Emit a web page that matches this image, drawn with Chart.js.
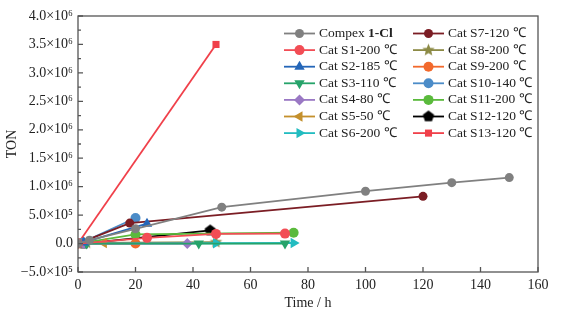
<!DOCTYPE html>
<html>
<head>
<meta charset="utf-8">
<script src="https://cdn.jsdelivr.net/npm/chart.js@4"></script>
<style>
  html, body { margin: 0; padding: 0; background: #fff; }
  #box { width: 568px; height: 320px; }
</style>
</head>
<body>
<div id="box"><canvas id="tonChart" width="568" height="320"></canvas></div>
<script>
// Time (h) and TON values
const compexTime = [0, 4, 20, 50, 100, 130, 150];
const compexTon  = [0, 60000, 260000, 640000, 920000, 1070000, 1160000];
const s1Time = [0, 24, 48, 72];
const s1Ton  = [0, 100000, 170000, 175000];
const s2Time = [2, 24];
const s2Ton  = [20000, 350000];
const s3Time = [3, 42, 72];
const s3Ton  = [0, 0, 0];
const s4Time = [2, 38];
const s4Ton  = [0, 0];
const s5Time = [1, 9];
const s5Ton  = [0, 10000];
const s6Time = [3, 48, 75];
const s6Ton  = [0, 5000, 10000];
const s7Time = [0, 18, 120];
const s7Ton  = [0, 360000, 830000];
const s8Time = [3, 48];
const s8Ton  = [10000, 25000];
const s9Time = [0, 20];
const s9Ton  = [0, 0];
const s10Time = [1, 20];
const s10Ton  = [10000, 450000];
const s11Time = [0, 20, 75];
const s11Ton  = [0, 160000, 190000];
const s12Time = [2, 46];
const s12Ton  = [0, 230000];
const s13Time = [0, 48];
const s13Ton  = [0, 3500000];

const xTicks = [0, 20, 40, 60, 80, 100, 120, 140, 160];

// little canvases for marker shapes chart.js lacks
function shapeCanvas(color, r, sides, inner) {
    const c = document.createElement('canvas');
    const s = Math.ceil(r * 2 + 2);
    c.width = s; c.height = s;
    const g = c.getContext('2d');
    const n = inner ? sides * 2 : sides;
    g.beginPath();
    for (let i = 0; i < n; i++) {
        const a = -Math.PI / 2 + i * Math.PI * 2 / n;
        const rr = inner && i % 2 ? r * inner : r;
        const px = s / 2 + rr * Math.cos(a), py = s / 2 + rr * Math.sin(a);
        if (i === 0) g.moveTo(px, py); else g.lineTo(px, py);
    }
    g.closePath();
    g.fillStyle = color;
    g.fill();
    return c;
}

const starMark = shapeCanvas('#8c8a45', 6.5, 5, 0.45);
const pentaMark = shapeCanvas('#000000', 6, 5, 0);

function pts(xs, ys) {
    return xs.map((x, i) => ({ x: x, y: ys[i] }));
}

function series(label, xs, ys, color, style, rot, size) {
    return {
        label: label,
        data: pts(xs, ys),
        borderColor: color,
        backgroundColor: color,
        borderWidth: 1.8,
        pointStyle: style,
        rotation: rot || 0,
        pointRadius: size || 4.5,
        pointBorderWidth: 0,
        pointBackgroundColor: color,
        fill: false,
        tension: 0
    };
}

const datasets = [
    series('Compex 1-Cl', compexTime, compexTon, '#808080', 'circle'),
    series('Cat S1-200 \u2103', s1Time, s1Ton, '#f24d55', 'circle', 0, 5),
    series('Cat S2-185 \u2103', s2Time, s2Ton, '#2466b8', 'triangle', 0, 6),
    series('Cat S3-110 \u2103', s3Time, s3Ton, '#26a36a', 'triangle', 180, 6),
    series('Cat S4-80 \u2103', s4Time, s4Ton, '#9a78c4', 'rectRot', 0, 5.5),
    series('Cat S5-50 \u2103', s5Time, s5Ton, '#c4902c', 'triangle', -90, 6),
    series('Cat S6-200 \u2103', s6Time, s6Ton, '#22bcc0', 'triangle', 90, 6),
    series('Cat S7-120 \u2103', s7Time, s7Ton, '#7b1d24', 'circle'),
    series('Cat S8-200 \u2103', s8Time, s8Ton, '#8c8a45', starMark),
    series('Cat S9-200 \u2103', s9Time, s9Ton, '#f2692c', 'circle', 0, 5),
    series('Cat S10-140 \u2103', s10Time, s10Ton, '#4b8cc8', 'circle', 0, 5),
    series('Cat S11-200 \u2103', s11Time, s11Ton, '#5aba3c', 'circle', 0, 5),
    series('Cat S12-120 \u2103', s12Time, s12Ton, '#000000', pentaMark),
    series('Cat S13-120 \u2103', s13Time, s13Ton, '#f0404a', 'rect', 0, 5)
];

const supers = { '0': '\u2070', '1': '\u00b9', '2': '\u00b2', '3': '\u00b3', '4': '\u2074', '5': '\u2075', '6': '\u2076', '7': '\u2077', '8': '\u2078', '9': '\u2079' };

function sciLabel(v) {
    if (v === 0) return '0.0';
    const sign = v < 0 ? '\u2212' : '';
    const a = Math.abs(v);
    const e = Math.floor(Math.log10(a) + 1e-9);
    const m = a / Math.pow(10, e);
    return sign + m.toFixed(1) + '\u00d710' + String(e).split('').map(d => supers[d]).join('');
}

const serif = "'Liberation Serif', 'Times New Roman', serif";

// frame, inward ticks and the two column legend
const framePlugin = {
    id: 'frame',
    afterDraw(chart) {
        const ctx = chart.ctx;
        const a = chart.chartArea;
        const xs = chart.scales.x, ys = chart.scales.y;
        ctx.save();
        ctx.strokeStyle = '#555';
        ctx.lineWidth = 1.3;
        ctx.strokeRect(a.left, a.top, a.right - a.left, a.bottom - a.top);
        ctx.beginPath();
        xTicks.forEach(v => {
            const px = xs.getPixelForValue(v);
            ctx.moveTo(px, a.bottom); ctx.lineTo(px, a.bottom - 5);
        });
        for (let v = -500000; v <= 4000000; v += 250000) {
            const py = ys.getPixelForValue(v);
            const len = v % 500000 === 0 ? 5 : 3;
            ctx.moveTo(a.left, py); ctx.lineTo(a.left + len, py);
        }
        ctx.stroke();

        const colX = [a.right - 254, a.right - 125];
        const rowY0 = a.top + 17.5, rowH = 16.6;
        ctx.font = '13.5px ' + serif;
        ctx.textBaseline = 'middle';
        chart.data.datasets.forEach((ds, i) => {
            const col = i < 7 ? 0 : 1;
            const row = i % 7;
            const x0 = colX[col], y0 = rowY0 + row * rowH;
            ctx.strokeStyle = ds.borderColor;
            ctx.fillStyle = ds.borderColor;
            ctx.lineWidth = 1.8;
            ctx.beginPath();
            ctx.moveTo(x0, y0); ctx.lineTo(x0 + 31, y0);
            ctx.stroke();
            Chart.helpers.drawPoint(ctx, {
                pointStyle: ds.pointStyle, rotation: ds.rotation,
                radius: ds.pointRadius, borderWidth: 0
            }, x0 + 15.5, y0);
            ctx.fillStyle = '#222';
            const tx = x0 + 35;
            if (i === 0) {
                ctx.fillText('Compex ', tx, y0);
                const w = ctx.measureText('Compex ').width;
                ctx.font = 'bold 13.5px ' + serif;
                ctx.fillText('1-Cl', tx + w, y0);
                ctx.font = '13.5px ' + serif;
            } else {
                ctx.fillText(ds.label, tx, y0);
            }
        });
        ctx.restore();
    }
};

const ctx = document.getElementById('tonChart').getContext('2d');
const chart = new Chart(ctx, {
    type: 'line',
    data: { datasets: datasets },
    plugins: [framePlugin],
    options: {
        responsive: false,
        animation: false,
        layout: { padding: { left: 0, top: 16, right: 30, bottom: 0 } },
        plugins: {
            legend: { display: false },
            tooltip: { enabled: false }
        },
        scales: {
            x: {
                type: 'linear',
                min: 0,
                max: 160,
                afterFit: s => { s.height = 48; },
                afterBuildTicks: s => { s.ticks = xTicks.map(v => ({ value: v })); },
                grid: { display: false, drawTicks: false },
                border: { display: false },
                ticks: {
                    padding: 5,
                    color: '#222',
                    font: { family: serif, size: 14 }
                },
                title: {
                    display: true,
                    text: 'Time / h',
                    color: '#222',
                    font: { family: serif, size: 14 },
                    padding: { top: 0, bottom: 8 }
                }
            },
            y: {
                min: -500000,
                max: 4000000,
                afterFit: s => { s.width = 78; },
                grid: { display: false, drawTicks: false },
                border: { display: false },
                ticks: {
                    stepSize: 500000,
                    padding: 5,
                    color: '#222',
                    font: { family: serif, size: 14 },
                    callback: v => sciLabel(v)
                },
                title: {
                    display: true,
                    text: 'TON',
                    color: '#222',
                    font: { family: serif, size: 14 },
                    padding: { top: 4, bottom: 0 }
                }
            }
        }
    }
});
</script>
</body>
</html>
